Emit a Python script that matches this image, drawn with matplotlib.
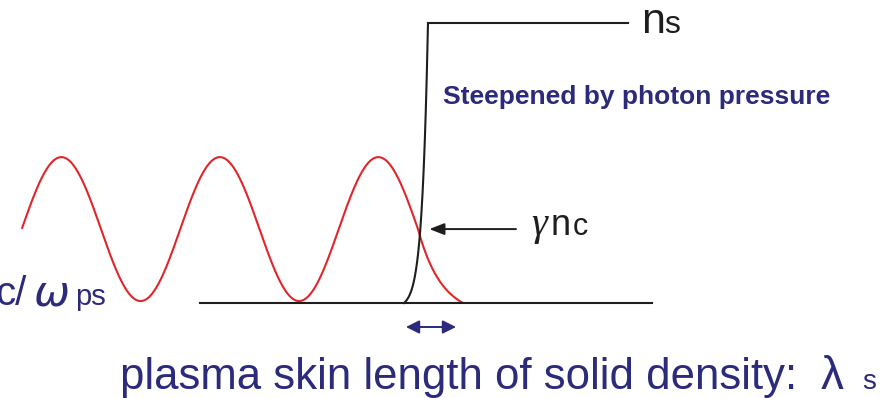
import numpy as np
import matplotlib
matplotlib.use("Agg")
import matplotlib.pyplot as plt
from matplotlib import font_manager

# diagram units: x in laser wavelengths from the critical surface, y in n/ns
wave_start = -2.498      # where the incoming light wave is drawn from
wave_center = 0.264      # mid level of the field oscillation
wave_amp = 0.257
skin_decay = 0.15        # evanescent decay length inside the plasma
wave_end = 0.284

ramp_foot = -0.088       # density leaves zero here
ramp_top = 0.063         # density reaches ns here
ramp_k = 4.0
base_start, base_end = -1.375, 1.476
top_end = 1.325

skin_span = (-0.076, 0.240)

navy = "#2b2a7b"
red = "#e0262b"
ink = "#1e1e1e"

names = {f.name for f in font_manager.fontManager.ttflist}
narrow = "Liberation Sans Narrow" if "Liberation Sans Narrow" in names else "Liberation Sans"

# pixel layout of the canvas (x origin at surface, y origin at n = 0)
X0, PX = 418.0, 158.5
Y0, PY = 303.0, 280.0
def dx(x): return (x - X0) / PX
def dy(y): return (Y0 - y) / PY

fig = plt.figure(figsize=(8.85, 3.98), dpi=100)
ax = fig.add_axes([0, 0, 1, 1])
ax.set_xlim(dx(0), dx(885))
ax.set_ylim(dy(398), dy(0))
ax.axis("off")

# light wave, then its evanescent tail, which dies out at wave_end
xw = np.linspace(wave_start, 0, 800)
yw = wave_center - wave_amp * np.sin(2 * np.pi * xw)
xe = np.linspace(0, wave_end, 120)
floor = np.exp(-wave_end / skin_decay)
ye = wave_center * (np.exp(-xe / skin_decay) - floor) / (1 - floor)
ax.plot(np.r_[xw, xe], np.r_[yw, ye], color=red, lw=1.5, solid_capstyle="round")

# steepened density profile over the flat n = 0 line
ax.plot([base_start, base_end], [0, 0], color=ink, lw=1.5)
xr = np.linspace(ramp_foot, ramp_top, 200)
t = (xr - ramp_foot) / (ramp_top - ramp_foot)
nr = (np.exp(ramp_k * t) - 1) / (np.exp(ramp_k) - 1)
ax.plot(np.r_[xr, top_end], np.r_[nr, 1], color=ink, lw=1.5,
        solid_joinstyle="miter")

# where the density passes gamma*n_c
t_c = np.log(1 + wave_center * (np.exp(ramp_k) - 1)) / ramp_k
x_c = ramp_foot + t_c * (ramp_top - ramp_foot)
ax.annotate("", xy=(x_c + dx(428) - dx(419), wave_center), xytext=(dx(516), wave_center),
            arrowprops=dict(arrowstyle="-|>,head_length=0.9,head_width=0.35",
                            color=ink, lw=1.4, shrinkA=0, shrinkB=0))

ax.annotate("", xy=(skin_span[0], dy(327)), xytext=(skin_span[1], dy(327)),
            arrowprops=dict(arrowstyle="<|-|>,head_length=0.8,head_width=0.4",
                            color=navy, lw=1.4, shrinkA=0, shrinkB=0))

# labels
ax.text(dx(641), dy(33), "n", family=narrow, fontsize=31, color=ink, va="baseline")
ax.text(dx(664), dy(33), "s", family=narrow, fontsize=23, color=ink, va="baseline")

ax.text(dx(443), dy(104), "Steepened by photon pressure", family="Liberation Sans",
        fontsize=19, weight="bold", color=navy, va="baseline")

ax.text(dx(531), dy(235), "\u03b3", family="Liberation Serif", style="italic",
        fontsize=29, color=ink, va="baseline")
ax.text(dx(551), dy(235), "n", family=narrow, fontsize=26, color=ink, va="baseline")
ax.text(dx(573), dy(235), "c", family=narrow, fontsize=22, color=ink, va="baseline")

ax.text(dx(27), dy(305), "c/", family=narrow, fontsize=29, color=navy,
        va="baseline", ha="right")
ax.text(dx(34), dy(305), "\u03c9", family="DejaVu Sans", style="italic",
        fontsize=31, color=navy, va="baseline")
ax.text(dx(75), dy(305), "ps", family=narrow, fontsize=21, color=navy, va="baseline")

ax.text(dx(797), dy(389), "plasma skin length of solid density:", family=narrow,
        fontsize=31.5, color=navy, va="baseline", ha="right")
ax.text(dx(821), dy(389), "\u03bb", family=narrow, fontsize=33, color=navy, va="baseline")
ax.text(dx(862), dy(389), "s", family=narrow, fontsize=20, color=navy, va="baseline")

fig.savefig("out.png", dpi=100)
